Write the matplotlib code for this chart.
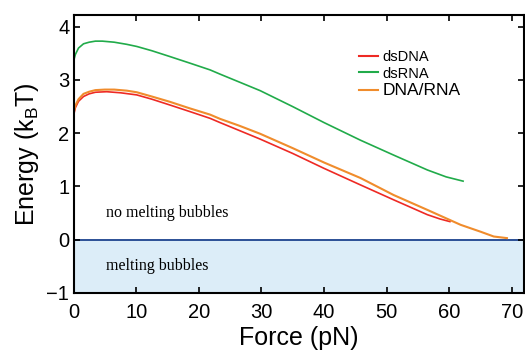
import matplotlib
matplotlib.use("Agg")
import matplotlib.pyplot as plt
from matplotlib.lines import Line2D

# values
force_dna = [0, 0.3, 0.8, 1.6, 2.5, 3.5, 5.3, 7.5, 10.1, 12.5, 15.4, 18.5, 21.8, 23.4, 26.5, 29.8, 35, 40, 45.8, 51.1, 56.5, 58.5, 60.1]
dsdna = [2.33, 2.48, 2.6, 2.69, 2.74, 2.77, 2.78, 2.76, 2.72, 2.64, 2.53, 2.41, 2.28, 2.2, 2.05, 1.89, 1.62, 1.34, 1.03, 0.75, 0.47, 0.39, 0.34]

force_rna = [0, 0.3, 0.8, 1.6, 2.5, 3.5, 4.6, 6.5, 8.5, 10.1, 12.5, 15.4, 18.5, 21.8, 23.4, 26.5, 29.8, 35, 40, 45.8, 51.1, 56.5, 59.5, 62.2]
dsrna = [3.35, 3.48, 3.6, 3.68, 3.71, 3.73, 3.73, 3.71, 3.67, 3.63, 3.55, 3.44, 3.32, 3.19, 3.11, 2.96, 2.8, 2.5, 2.2, 1.87, 1.59, 1.31, 1.18, 1.1]

force_hyb = [0, 0.3, 0.8, 1.6, 2.5, 3.5, 5, 6.5, 8.5, 10.1, 12.5, 15.4, 18.5, 21.8, 23.4, 26.5, 29.8, 35, 40, 45.8, 51.1, 56.5, 61.8, 65, 67.1, 69.2]
dnarna = [2.38, 2.52, 2.64, 2.74, 2.78, 2.81, 2.82, 2.82, 2.8, 2.77, 2.69, 2.59, 2.47, 2.35, 2.27, 2.14, 1.99, 1.72, 1.45, 1.16, 0.84, 0.56, 0.28, 0.15, 0.06, 0.03]

labels = ["dsDNA", "dsRNA", "DNA/RNA"]
colors = ["#ee2a24", "#21ab4a", "#f08c2c"]

fig = plt.figure(figsize=(5.25, 3.5), dpi=100)
ax = fig.add_axes([0.14, 0.163, 0.859, 0.794])

ax.axhspan(-1, 0, color="#dcedf8", zorder=0)
ax.axhline(0, color="#2b4f96", lw=1.4, zorder=1)

ax.plot(force_dna, dsdna, color=colors[0], lw=1.2)
ax.plot(force_rna, dsrna, color=colors[1], lw=1.2)
ax.plot(force_hyb, dnarna, color=colors[2], lw=1.5)

ax.text(5.2, 0.5, "no melting bubbles", family="Liberation Serif", fontsize=11.5, va="center")
ax.text(5.2, -0.5, "melting bubbles", family="Liberation Serif", fontsize=11.5, va="center")

ax.set_xlim(0, 72)
ax.set_ylim(-1, 4.22)
ax.set_xticks(range(0, 80, 10))
ax.set_yticks(range(-1, 5))
ax.set_yticklabels(["\u22121", "0", "1", "2", "3", "4"])
ax.tick_params(direction="in", top=True, right=True, length=4, width=1.2,
               labelsize=14.5)
ax.tick_params(axis="x", pad=7)
ax.tick_params(axis="y", pad=3)
for lab in ax.get_xticklabels() + ax.get_yticklabels():
    lab.set_family("Liberation Sans")
for s in ax.spines.values():
    s.set_linewidth(1.5)

ax.set_xlabel("Force (pN)", family="Liberation Sans", fontsize=18, labelpad=3)
ax.set_ylabel("Energy (k$_\\mathregular{B}$T)", family="Liberation Sans", fontsize=18, labelpad=4)

handles = [Line2D([], [], color=c, lw=1.5) for c in colors]
leg = ax.legend(handles, labels, loc="upper left", bbox_to_anchor=(0.605, 0.92),
                frameon=False, handlelength=1.3, handletextpad=0.3,
                labelspacing=0.15, prop={"family": "Liberation Sans", "size": 10.5})
leg.get_texts()[2].set_fontsize(12.5)

fig.savefig("out.png", dpi=100)
